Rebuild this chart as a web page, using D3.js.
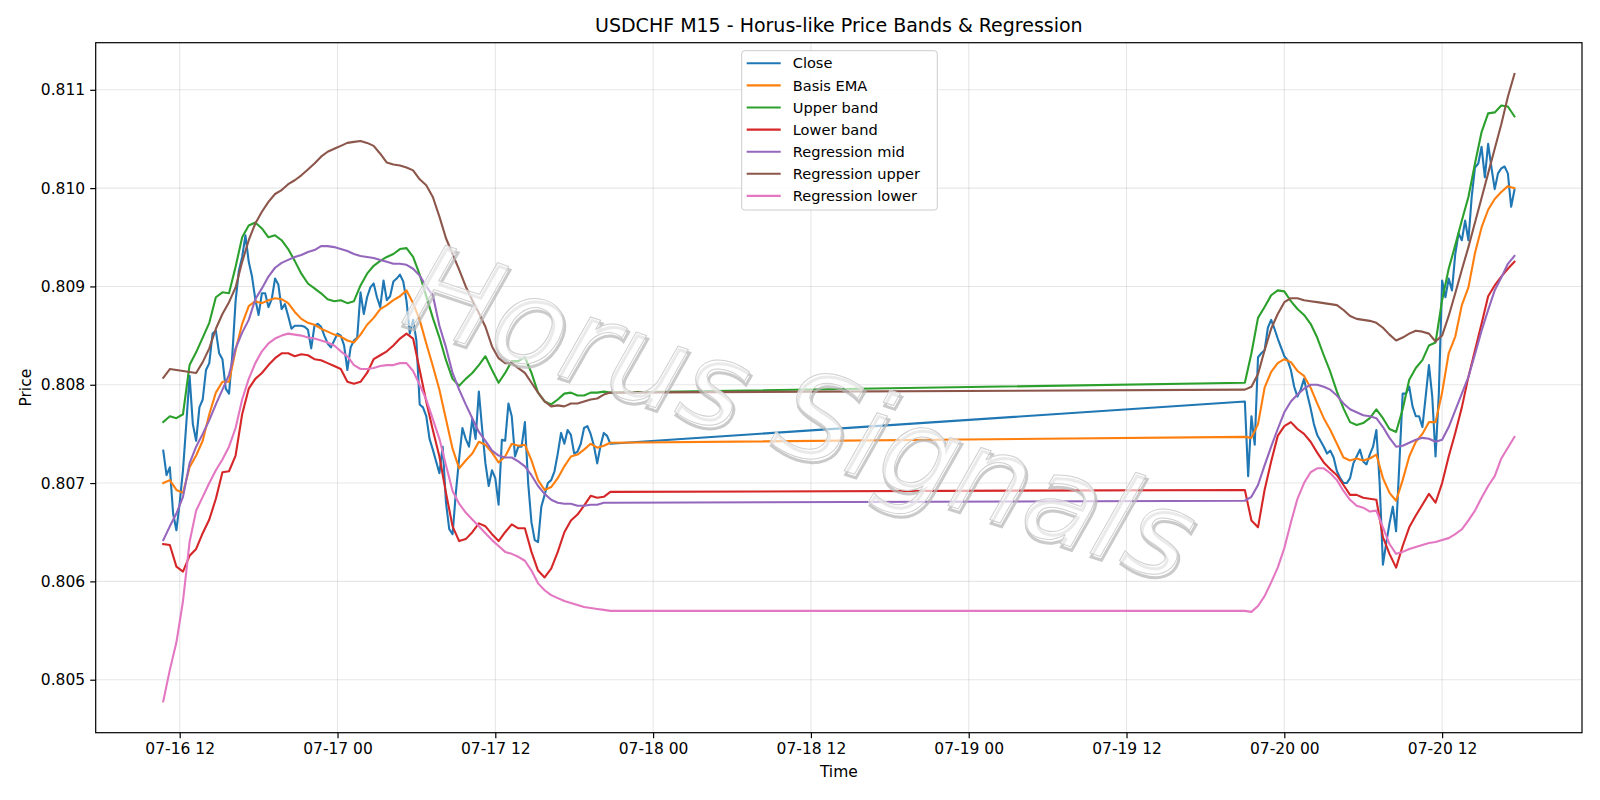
<!DOCTYPE html>
<html>
<head>
<meta charset="utf-8">
<script src="https://cdn.jsdelivr.net/npm/d3@7"></script>
<style>
  body { margin: 0; background: #fff; }
  svg text { font-family: "DejaVu Sans", sans-serif; fill: #000; }
</style>
</head>
<body>
<div id="chart"></div>
<script>
// M15 bars: one session up to Thursday evening, then the Sunday open
const session1Start = new Date(2025, 6, 16, 10, 45);
const session2Start = new Date(2025, 6, 19, 21, 0);

// Close, every 15 min
const closeS1 = [0.80733, 0.80708, 0.80716, 0.80669, 0.80652, 0.80680, 0.80713, 0.80760, 0.80809, 0.80760,
  0.80743, 0.80777, 0.80785, 0.80815, 0.80822, 0.80852, 0.80855, 0.80832, 0.80826, 0.80796,
  0.80791, 0.80830, 0.80885, 0.80916, 0.80930, 0.80952, 0.80925, 0.80910, 0.80887, 0.80871,
  0.80893, 0.80893, 0.80879, 0.80887, 0.80908, 0.80902, 0.80877, 0.80882, 0.80870, 0.80857,
  0.80860, 0.80860, 0.80860, 0.80859, 0.80856, 0.80837, 0.80860, 0.80862, 0.80859, 0.80850,
  0.80842, 0.80838, 0.80845, 0.80852, 0.80850, 0.80840, 0.80815, 0.80838, 0.80845, 0.80848,
  0.80894, 0.80872, 0.80889, 0.80899, 0.80903, 0.80889, 0.80879, 0.80906, 0.80886, 0.80890,
  0.80905, 0.80908, 0.80912, 0.80905, 0.80885, 0.80852, 0.80866, 0.80845, 0.80780, 0.80777,
  0.80768, 0.80745, 0.80734, 0.80722, 0.80710, 0.80737, 0.80680, 0.80653, 0.80648, 0.80690,
  0.80725, 0.80756, 0.80745, 0.80737, 0.80765, 0.80745, 0.80793, 0.80755, 0.80720, 0.80697,
  0.80713, 0.80705, 0.80678, 0.80744, 0.80743, 0.80781, 0.80768, 0.80727, 0.80737, 0.80737,
  0.80762, 0.80700, 0.80660, 0.80642, 0.80640, 0.80676, 0.80688, 0.80700, 0.80703, 0.80712,
  0.80730, 0.80751, 0.80740, 0.80754, 0.80749, 0.80730, 0.80732, 0.80740, 0.80756, 0.80758,
  0.80750, 0.80738, 0.80720, 0.80738, 0.80751, 0.80748, 0.80740];
const closeS2 = [0.80783, 0.80707, 0.80768, 0.80739, 0.80828, 0.80832, 0.80835, 0.80858, 0.80866, 0.80857,
  0.80847, 0.80838, 0.80829, 0.80825, 0.80815, 0.80798, 0.80788, 0.80795, 0.80806, 0.80790,
  0.80776, 0.80760, 0.80749, 0.80743, 0.80737, 0.80730, 0.80733, 0.80726, 0.80712, 0.80705,
  0.80700, 0.80700, 0.80705, 0.80720, 0.80727, 0.80734, 0.80722, 0.80719, 0.80729, 0.80737,
  0.80754, 0.80700, 0.80617, 0.80639, 0.80659, 0.80676, 0.80651, 0.80720, 0.80791, 0.80791,
  0.80798, 0.80778, 0.80768, 0.80768, 0.80757, 0.80788, 0.80820, 0.80788, 0.80727, 0.80791,
  0.80906, 0.80889, 0.80908, 0.80896, 0.80933, 0.80954, 0.80947, 0.80967, 0.80947, 0.80991,
  0.81021, 0.81025, 0.81042, 0.81011, 0.81045, 0.81021, 0.80999, 0.81015, 0.81020, 0.81022,
  0.81015, 0.80981, 0.80998];

// the band / regression lines, read every 30 min
const emaS1 = [0.80700, 0.80703, 0.80693, 0.80690, 0.80716, 0.80728, 0.80743, 0.80770, 0.80792, 0.80803,
  0.80803, 0.80835, 0.80862, 0.80880, 0.80885, 0.80883, 0.80886, 0.80888, 0.80887, 0.80883,
  0.80874, 0.80867, 0.80863, 0.80861, 0.80857, 0.80854, 0.80851, 0.80849, 0.80845, 0.80843,
  0.80851, 0.80861, 0.80868, 0.80877, 0.80881, 0.80886, 0.80890, 0.80896, 0.80883, 0.80866,
  0.80842, 0.80819, 0.80795, 0.80765, 0.80735, 0.80715, 0.80723, 0.80730, 0.80742, 0.80739,
  0.80731, 0.80721, 0.80727, 0.80740, 0.80738, 0.80739, 0.80723, 0.80703, 0.80693, 0.80696,
  0.80705, 0.80717, 0.80727, 0.80729, 0.80734, 0.80740, 0.80736, 0.80738, 0.80741];
const emaS2 = [0.80747, 0.80746, 0.80760, 0.80797, 0.80813, 0.80822, 0.80826, 0.80823, 0.80814, 0.80809,
  0.80797, 0.80781, 0.80766, 0.80754, 0.80740, 0.80726, 0.80723, 0.80725, 0.80723, 0.80725,
  0.80729, 0.80705, 0.80690, 0.80682, 0.80703, 0.80727, 0.80742, 0.80750, 0.80762, 0.80762,
  0.80792, 0.80832, 0.80849, 0.80881, 0.80899, 0.80934, 0.80960, 0.80978, 0.80989, 0.80996,
  0.81002, 0.81000];

const upperS1 = [0.80762, 0.80768, 0.80766, 0.80770, 0.80820, 0.80833, 0.80848, 0.80863, 0.80889, 0.80894,
  0.80893, 0.80920, 0.80950, 0.80962, 0.80965, 0.80959, 0.80950, 0.80952, 0.80947, 0.80938,
  0.80926, 0.80913, 0.80903, 0.80898, 0.80893, 0.80887, 0.80885, 0.80886, 0.80883, 0.80885,
  0.80901, 0.80913, 0.80921, 0.80926, 0.80930, 0.80933, 0.80938, 0.80939, 0.80930, 0.80912,
  0.80890, 0.80868, 0.80848, 0.80825, 0.80806, 0.80799, 0.80806, 0.80812, 0.80820, 0.80829,
  0.80815, 0.80802, 0.80812, 0.80824, 0.80824, 0.80828, 0.80812, 0.80792, 0.80783, 0.80780,
  0.80785, 0.80791, 0.80792, 0.80789, 0.80789, 0.80792, 0.80792, 0.80793, 0.80792];
const upperS2 = [0.80802, 0.80832, 0.80868, 0.80879, 0.80891, 0.80896, 0.80895, 0.80885, 0.80877, 0.80871,
  0.80862, 0.80848, 0.80830, 0.80813, 0.80793, 0.80776, 0.80762, 0.80759, 0.80761, 0.80766,
  0.80775, 0.80766, 0.80755, 0.80752, 0.80775, 0.80805, 0.80817, 0.80825, 0.80840, 0.80843,
  0.80886, 0.80918, 0.80942, 0.80967, 0.80991, 0.81025, 0.81057, 0.81076, 0.81077, 0.81084,
  0.81083, 0.81073];

const lowerS1 = [0.80638, 0.80637, 0.80615, 0.80610, 0.80626, 0.80633, 0.80649, 0.80663, 0.80684, 0.80711,
  0.80712, 0.80728, 0.80770, 0.80796, 0.80806, 0.80812, 0.80820, 0.80827, 0.80832, 0.80832,
  0.80829, 0.80831, 0.80830, 0.80826, 0.80825, 0.80822, 0.80819, 0.80816, 0.80803, 0.80801,
  0.80803, 0.80812, 0.80826, 0.80830, 0.80834, 0.80840, 0.80847, 0.80852, 0.80847, 0.80815,
  0.80783, 0.80754, 0.80727, 0.80690, 0.80656, 0.80641, 0.80643, 0.80650, 0.80659, 0.80656,
  0.80648, 0.80641, 0.80650, 0.80658, 0.80654, 0.80654, 0.80630, 0.80611, 0.80604, 0.80613,
  0.80630, 0.80650, 0.80662, 0.80668, 0.80677, 0.80687, 0.80685, 0.80686, 0.80691];
const lowerS2 = [0.80693, 0.80662, 0.80655, 0.80693, 0.80722, 0.80748, 0.80758, 0.80762, 0.80755, 0.80750,
  0.80742, 0.80731, 0.80721, 0.80714, 0.80708, 0.80698, 0.80688, 0.80688, 0.80685, 0.80684,
  0.80683, 0.80645, 0.80628, 0.80614, 0.80636, 0.80655, 0.80667, 0.80678, 0.80689, 0.80680,
  0.80700, 0.80727, 0.80751, 0.80777, 0.80808, 0.80835, 0.80862, 0.80890, 0.80901, 0.80910,
  0.80918, 0.80925];

const regMidS1 = [0.80642, 0.80656, 0.80669, 0.80686, 0.80720, 0.80737, 0.80750, 0.80764, 0.80780, 0.80795,
  0.80810, 0.80837, 0.80853, 0.80866, 0.80887, 0.80898, 0.80910, 0.80919, 0.80924, 0.80927,
  0.80930, 0.80932, 0.80935, 0.80937, 0.80941, 0.80941, 0.80940, 0.80938, 0.80936, 0.80933,
  0.80931, 0.80930, 0.80929, 0.80927, 0.80925, 0.80923, 0.80923, 0.80922, 0.80918, 0.80911,
  0.80900, 0.80891, 0.80860, 0.80838, 0.80812, 0.80795, 0.80780, 0.80766, 0.80752, 0.80743,
  0.80733, 0.80728, 0.80726, 0.80726, 0.80722, 0.80717, 0.80708, 0.80697, 0.80689, 0.80683,
  0.80680, 0.80679, 0.80679, 0.80677, 0.80677, 0.80678, 0.80678, 0.80680, 0.80680];
const regMidS2 = [0.80682, 0.80686, 0.80698, 0.80718, 0.80737, 0.80755, 0.80772, 0.80783, 0.80790, 0.80796,
  0.80800, 0.80800, 0.80798, 0.80795, 0.80789, 0.80781, 0.80775, 0.80772, 0.80769, 0.80768,
  0.80766, 0.80757, 0.80746, 0.80737, 0.80738, 0.80741, 0.80744, 0.80746, 0.80745, 0.80742,
  0.80744, 0.80757, 0.80774, 0.80791, 0.80808, 0.80831, 0.80855, 0.80876, 0.80896, 0.80909,
  0.80923, 0.80931];

const regUpS1 = [0.80807, 0.80816, 0.80815, 0.80814, 0.80813, 0.80812, 0.80823, 0.80837, 0.80857, 0.80872,
  0.80884, 0.80899, 0.80925, 0.80947, 0.80964, 0.80976, 0.80986, 0.80994, 0.80998, 0.81004,
  0.81008, 0.81013, 0.81019, 0.81025, 0.81032, 0.81037, 0.81040, 0.81043, 0.81046, 0.81047,
  0.81048, 0.81046, 0.81043, 0.81035, 0.81026, 0.81024, 0.81023, 0.81021, 0.81018, 0.81009,
  0.81003, 0.80991, 0.80971, 0.80949, 0.80933, 0.80917, 0.80900, 0.80886, 0.80873, 0.80859,
  0.80839, 0.80827, 0.80822, 0.80822, 0.80817, 0.80812, 0.80802, 0.80792, 0.80783, 0.80778,
  0.80779, 0.80778, 0.80781, 0.80781, 0.80783, 0.80785, 0.80786, 0.80790, 0.80792];
const regUpS2 = [0.80795, 0.80798, 0.80811, 0.80835, 0.80857, 0.80872, 0.80884, 0.80888, 0.80888, 0.80886,
  0.80885, 0.80884, 0.80883, 0.80882, 0.80881, 0.80876, 0.80870, 0.80867, 0.80866, 0.80865,
  0.80863, 0.80858, 0.80851, 0.80845, 0.80848, 0.80852, 0.80855, 0.80854, 0.80852, 0.80844,
  0.80850, 0.80870, 0.80893, 0.80917, 0.80940, 0.80965, 0.80990, 0.81015, 0.81040, 0.81065,
  0.81093, 0.81116];

const regLowS1 = [0.80478, 0.80510, 0.80538, 0.80580, 0.80640, 0.80672, 0.80686, 0.80700, 0.80713, 0.80724,
  0.80737, 0.80756, 0.80785, 0.80806, 0.80822, 0.80834, 0.80842, 0.80847, 0.80850, 0.80852,
  0.80851, 0.80850, 0.80848, 0.80847, 0.80845, 0.80843, 0.80840, 0.80834, 0.80829, 0.80820,
  0.80816, 0.80816, 0.80817, 0.80819, 0.80820, 0.80820, 0.80822, 0.80822, 0.80814, 0.80800,
  0.80785, 0.80765, 0.80745, 0.80718, 0.80692, 0.80679, 0.80670, 0.80663, 0.80656, 0.80649,
  0.80642, 0.80636, 0.80630, 0.80628, 0.80625, 0.80621, 0.80611, 0.80598, 0.80591, 0.80586,
  0.80583, 0.80580, 0.80578, 0.80576, 0.80574, 0.80573, 0.80572, 0.80571, 0.80570];
const regLowS2 = [0.80570, 0.80569, 0.80575, 0.80585, 0.80599, 0.80614, 0.80634, 0.80660, 0.80684, 0.80700,
  0.80711, 0.80715, 0.80715, 0.80710, 0.80703, 0.80692, 0.80683, 0.80677, 0.80675, 0.80671,
  0.80672, 0.80655, 0.80638, 0.80628, 0.80630, 0.80633, 0.80635, 0.80637, 0.80639, 0.80640,
  0.80642, 0.80644, 0.80648, 0.80653, 0.80662, 0.80672, 0.80685, 0.80697, 0.80707, 0.80725,
  0.80736, 0.80747];

const yTicks = [0.805, 0.806, 0.807, 0.808, 0.809, 0.810, 0.811];
const seriesNames = ["Close", "Basis EMA", "Upper band", "Lower band", "Regression mid", "Regression upper", "Regression lower"];
const colors = ["#1f77b4", "#ff7f0e", "#2ca02c", "#d62728", "#9467bd", "#8c564b", "#e377c2"];

function timesFor(start, count, stepMin) {
  return d3.range(count).map((i) => new Date(start.getTime() + i * stepMin * 60000));
}
const closeTimes = timesFor(session1Start, closeS1.length, 15).concat(timesFor(session2Start, closeS2.length, 15));
const bandTimes = timesFor(session1Start, emaS1.length, 30).concat(timesFor(session2Start, emaS2.length, 30));

const seriesValues = [
  closeS1.concat(closeS2),
  emaS1.concat(emaS2),
  upperS1.concat(upperS2),
  lowerS1.concat(lowerS2),
  regMidS1.concat(regMidS2),
  regUpS1.concat(regUpS2),
  regLowS1.concat(regLowS2)
];
const series = seriesNames.map((name, i) => ({
  name: name,
  color: colors[i],
  points: seriesValues[i].map((v, j) => [i === 0 ? closeTimes[j] : bandTimes[j], v])
}));

const W = 1600, H = 800;
const margin = { left: 95.7, top: 42.7, right: 18, bottom: 67.3 };
const width = W - margin.left - margin.right;
const height = H - margin.top - margin.bottom;

// matplotlib style 5% margins
const tExt = d3.extent(closeTimes);
const tPad = (tExt[1] - tExt[0]) * 0.05;
const allVals = seriesValues.flat();
const vMin = d3.min(allVals), vMax = d3.max(allVals);
const vPad = (vMax - vMin) * 0.05;

const xScale = d3.scaleTime()
  .domain([new Date(+tExt[0] - tPad), new Date(+tExt[1] + tPad)])
  .range([0, width]);
const yScale = d3.scaleLinear()
  .domain([vMin - vPad, vMax + vPad])
  .range([height, 0]);

const svg = d3.select("#chart").append("svg")
  .attr("width", W)
  .attr("height", H)
  .style("background", "#fff");

const g = svg.append("g").attr("transform", "translate(" + margin.left + "," + margin.top + ")");

const xTicks = d3.timeHour.every(12).range(new Date(2025, 6, 16, 12), new Date(2025, 6, 20, 12, 1));

// grid
g.append("g").selectAll("line.vg")
  .data(xTicks).enter().append("line")
  .attr("x1", (d) => xScale(d)).attr("x2", (d) => xScale(d))
  .attr("y1", 0).attr("y2", height)
  .attr("stroke", "#b0b0b0").attr("stroke-opacity", 0.3).attr("stroke-width", 1.1);
g.append("g").selectAll("line.hg")
  .data(yTicks).enter().append("line")
  .attr("y1", (d) => yScale(d)).attr("y2", (d) => yScale(d))
  .attr("x1", 0).attr("x2", width)
  .attr("stroke", "#b0b0b0").attr("stroke-opacity", 0.3).attr("stroke-width", 1.1);

const line = d3.line()
  .x((d) => xScale(d[0]))
  .y((d) => yScale(d[1]));

g.append("g").selectAll("path")
  .data(series).enter().append("path")
  .attr("d", (d) => line(d.points))
  .attr("fill", "none")
  .attr("stroke", (d) => d.color)
  .attr("stroke-width", 2.1)
  .attr("stroke-linejoin", "round")
  .attr("stroke-linecap", "square");

// watermark: light letters with a soft grey shadow
const wm = svg.append("g").attr("transform", "translate(798,421) rotate(18.5)");
wm.append("text")
  .attr("x", 2.5).attr("y", 3)
  .attr("text-anchor", "middle")
  .attr("dominant-baseline", "middle")
  .style("font-size", "120px")
  .style("font-style", "italic")
  .style("fill", "none")
  .style("stroke", "#b8b8b8")
  .style("stroke-width", 3)
  .style("stroke-opacity", 0.75)
  .text("Horus Signals");
wm.append("text")
  .attr("text-anchor", "middle")
  .attr("dominant-baseline", "middle")
  .style("font-size", "120px")
  .style("font-style", "italic")
  .style("fill", "#ffffff")
  .style("fill-opacity", 0.6)
  .style("stroke", "#d0d0d0")
  .style("stroke-width", 1)
  .text("Horus Signals");

// axes
const xAxis = d3.axisBottom(xScale)
  .tickValues(xTicks)
  .tickFormat(d3.timeFormat("%m-%d %H"))
  .tickSize(5.5).tickPadding(5).tickSizeOuter(0);
const gx = g.append("g").attr("transform", "translate(0," + height + ")").call(xAxis);
gx.select(".domain").remove();
gx.selectAll("line").attr("stroke", "#000").attr("stroke-width", 1.2);
gx.selectAll("text").style("font-size", "15.5px").style("font-family", "DejaVu Sans");

const yAxis = d3.axisLeft(yScale)
  .tickValues(yTicks)
  .tickFormat(d3.format(".3f"))
  .tickSize(5.5).tickPadding(5).tickSizeOuter(0);
const gy = g.append("g").call(yAxis);
gy.select(".domain").remove();
gy.selectAll("line").attr("stroke", "#000").attr("stroke-width", 1.2);
gy.selectAll("text").style("font-size", "15.5px").style("font-family", "DejaVu Sans");

// spines
g.append("rect")
  .attr("width", width).attr("height", height)
  .attr("fill", "none").attr("stroke", "#000").attr("stroke-width", 1.2);

// labels
svg.append("text")
  .attr("x", margin.left + width / 2).attr("y", 32.3)
  .attr("text-anchor", "middle")
  .style("font-size", "19px")
  .text("USDCHF M15 - Horus-like Price Bands & Regression");
svg.append("text")
  .attr("x", margin.left + width / 2).attr("y", 776.5)
  .attr("text-anchor", "middle")
  .style("font-size", "15.5px")
  .text("Time");
svg.append("text")
  .attr("transform", "translate(31," + (margin.top + height / 2) + ") rotate(-90)")
  .attr("text-anchor", "middle")
  .style("font-size", "15.5px")
  .text("Price");

// legend
const legend = svg.append("g").attr("transform", "translate(741.7,50.7)");
legend.append("rect")
  .attr("width", 195.6).attr("height", 159.3)
  .attr("rx", 3)
  .attr("fill", "#fff").attr("fill-opacity", 0.85)
  .attr("stroke", "#cccccc").attr("stroke-width", 1);
const rows = legend.selectAll("g.row")
  .data(series).enter().append("g")
  .attr("transform", (d, i) => "translate(0," + (12.6 + i * 22.1) + ")");
rows.append("line")
  .attr("x1", 5).attr("x2", 39)
  .attr("stroke", (d) => d.color).attr("stroke-width", 2.1);
rows.append("text")
  .attr("x", 51).attr("dy", "0.35em")
  .style("font-size", "14.6px")
  .text((d) => d.name);
</script>
</body>
</html>
